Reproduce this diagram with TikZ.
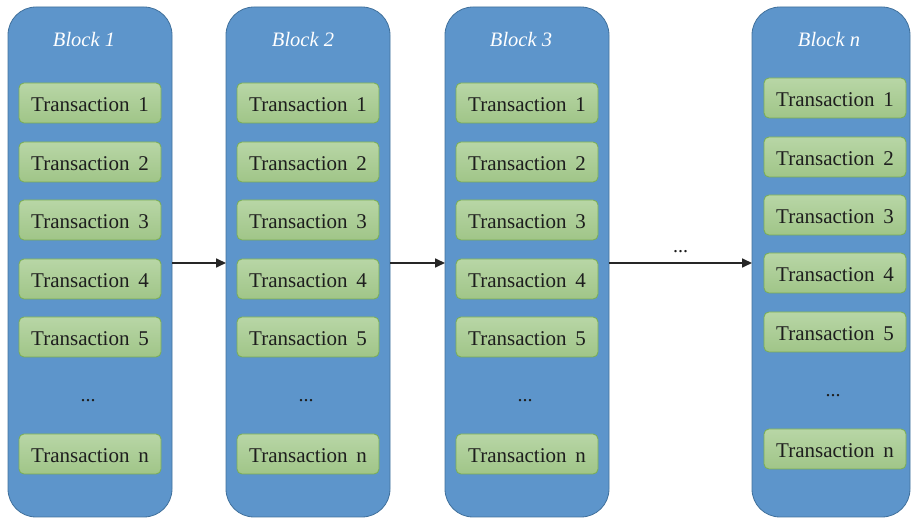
\documentclass[tikz,border=0pt]{standalone}
\usepackage{fontspec}
\setmainfont{Liberation Serif}
\usetikzlibrary{arrows.meta}
\definecolor{blockfill}{RGB}{93,149,203}
\definecolor{blockline}{RGB}{65,113,156}
\definecolor{txtop}{RGB}{184,214,166}
\definecolor{txbot}{RGB}{160,197,136}
\definecolor{txline}{RGB}{122,174,82}
\definecolor{txtext}{RGB}{30,30,30}
\tikzset{
  x=1pt, y=-1pt,
  blockbox/.style={draw=blockline, line width=0.8pt, fill=blockfill, rounded corners=28pt},
  txbox/.style={draw=txline, line width=0.8pt, top color=txtop, bottom color=txbot,
    rounded corners=5pt, minimum width=142pt, minimum height=40pt, inner sep=0pt,
    font=\fontsize{21}{24}\selectfont, text=txtext},
  txlabel/.style={font=\fontsize{21}{24}\selectfont, text=txtext, inner sep=0pt},
  blocktitle/.style={font=\fontsize{20.5}{24}\selectfont\itshape, text=white},
  dots/.style={font=\fontsize{20}{24}\selectfont, text=txtext},
  link/.style={draw=black!85, line width=1.7pt, -{Triangle[length=10pt,width=9pt]}}
}
\begin{document}
\begin{tikzpicture}
\useasboundingbox (0,0) rectangle (911,518);
% blocks
\path[blockbox] (8,7) rectangle (172,517);
\path[blockbox] (226,7) rectangle (390,517);
\path[blockbox] (445,7) rectangle (609,517);
\path[blockbox] (752,7) rectangle (910,517);
\coordinate (b1w) at (8,263);   \coordinate (b1e) at (172,263);
\coordinate (b2w) at (226,263); \coordinate (b2e) at (390,263);
\coordinate (b3w) at (445,263); \coordinate (b3e) at (609,263);
\coordinate (bnw) at (752,263);
% titles
\node[blocktitle] (t1) at (84,39) {Block 1};
\node[blocktitle] (t2) at (303,39) {Block 2};
\node[blocktitle] (t3) at (521,39) {Block 3};
\node[blocktitle] (tn) at (829,39) {Block \textit{n}};
% transactions in blocks 1-3
\foreach \bx/\b in {90/a,308/b,527/c}{
  \foreach \i/\y in {1/103,2/162,3/220,4/279,5/337}{
    \node[txbox] (\b\i) at (\bx,\y) {};
    \node[txlabel] (\b\i l) at ([yshift=-1.5pt]\b\i.center) {Transaction \,\i};
  }
  \node[dots] (\b d) at (\bx-2,401) {...};
  \node[txbox] (\b n) at (\bx,454) {};
  \node[txlabel] (\b nl) at ([yshift=-1.5pt]\b n.center) {Transaction \,n};
}
% transactions in block n
\foreach \i/\y in {1/98,2/157,3/215,4/273,5/332}{
  \node[txbox] (z\i) at (835,\y) {};
  \node[txlabel] (z\i l) at ([yshift=-1.5pt]z\i.center) {Transaction \,\i};
}
\node[dots] (zd) at (833,396) {...};
\node[txbox] (zn) at (835,449) {};
\node[txlabel] (znl) at ([yshift=-1.5pt]zn.center) {Transaction \,n};
% links between blocks
\draw[link] (b1e) -- (b2w);
\draw[link] (b2e) -- (b3w);
\draw[link] (b3e) -- node[dots, above=6pt] (gap) {...} (bnw);
\end{tikzpicture}
\end{document}
